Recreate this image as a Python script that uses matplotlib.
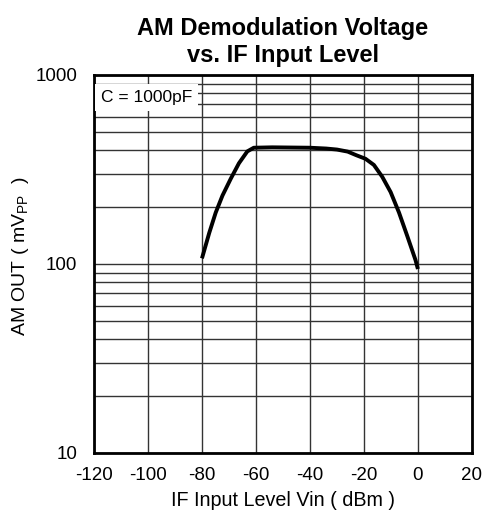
import matplotlib
matplotlib.use('Agg')
import matplotlib.pyplot as plt
from matplotlib.ticker import FixedLocator, NullFormatter

plt.rcParams['font.family'] = ['Liberation Sans', 'DejaVu Sans']

# curve
vin_dbm = [-80, -77.3, -74.9, -72.4, -69.3, -66.3, -63.2, -60.8, -54, -47, -40,
           -34, -30, -26, -22.8, -19.4, -16.3, -13.2, -10.1, -7.0, -3.9, -0.9, 0]
am_out_mv = [107, 146, 187, 230, 283, 341, 394, 412, 414, 413, 412,
             408, 403, 393, 376, 360, 334, 289, 240, 187, 140, 105, 94]

x_ticks = [-120, -100, -80, -60, -40, -20, 0, 20]
y_major = [10, 100, 1000]
y_minor = [20, 30, 40, 50, 60, 70, 80, 90, 200, 300, 400, 500, 600, 700, 800, 900]

fig = plt.figure(figsize=(4.82, 5.17), dpi=100)
ax = fig.add_axes([0.195, 0.124, 0.784, 0.731])

ax.set_yscale('log')
ax.set_xlim(-120, 20)
ax.set_ylim(10, 1000)
ax.set_xticks(x_ticks)
ax.set_xticklabels([str(v) for v in x_ticks])
ax.yaxis.set_major_locator(FixedLocator(y_major))
ax.set_yticklabels([str(v) for v in y_major])
ax.yaxis.set_minor_locator(FixedLocator(y_minor))
ax.yaxis.set_minor_formatter(NullFormatter())

ax.grid(True, which='both', color='#333333', linewidth=1.0)
ax.tick_params(which='both', length=0, labelsize=13.5)
ax.tick_params(axis='x', pad=10)
ax.tick_params(axis='y', pad=12)
for s in ax.spines.values():
    s.set_linewidth(2)

ax.plot(vin_dbm, am_out_mv, color='black', linewidth=2.8,
        solid_capstyle='butt', solid_joinstyle='round')

ax.text(-117.5, 760, 'C = 1000pF', fontsize=12.5, va='center', ha='left',
        bbox=dict(facecolor='white', edgecolor='none', pad=4))

ax.set_xlabel('IF Input Level Vin ( dBm )', fontsize=14.2, labelpad=5)
ax.set_ylabel('AM OUT ( mV$_{\\mathregular{PP}}$  )', fontsize=14)
ax.yaxis.set_label_coords(-0.167, 0.52)
ax.set_title('AM Demodulation Voltage\nvs. IF Input Level', fontsize=17,
             fontweight='bold', pad=9, linespacing=1.25)

fig.savefig('out.png', dpi=100)
